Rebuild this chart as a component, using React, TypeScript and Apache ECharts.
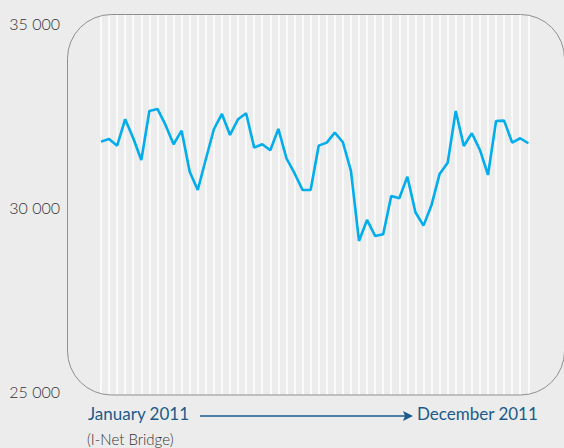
import React, { useEffect, useRef } from "react";
import * as echarts from "echarts";

// Weekly closing levels, January to December 2011
const weeks: string[] = Array.from({ length: 54 }, (_, i) => `W${i + 1}`);
const indexLevels: number[] = [
  31795, 31868, 31686, 32403, 31887, 31298, 32628, 32683, 32248, 31724,
  32093, 30980, 30483, 31317, 32131, 32547, 31977, 32403, 32566, 31632,
  31724, 31561, 32140, 31344, 30937, 30483, 30483, 31686, 31768, 32039,
  31778, 30999, 29099, 29669, 29234, 29280, 30320, 30258, 30844, 29878,
  29514, 30076, 30918, 31225, 32628, 31678, 32023, 31569, 30891, 32357,
  32365, 31768, 31887, 31751,
];
const yMin = 25000;
const yMax = 35000;
const yStep = 5000;
const startLabel = "January 2011";
const endLabel = "December 2011";
const sourceLabel = "(I-Net Bridge)";

const FONT = "Lato, 'Open Sans', sans-serif";
const BLUE = "#1b5a8c";

const fmt = (v: number) => {
  const s = String(Math.round(v));
  return s.replace(/\B(?=(\d{3})+(?!\d))/g, " ");
};

// Rounded frame around the plot
const frame = { x: 67.5, y: 14.5, width: 497, height: 380.5, r: 44 };

export default function App() {
  const ref = useRef<HTMLDivElement>(null);

  useEffect(() => {
    if (!ref.current) return;
    const chart = echarts.init(ref.current, undefined, { renderer: "svg" });
    chart.setOption({
      animation: false,
      backgroundColor: "#ececec",
      grid: [
        { left: 101, right: 35.7, top: 23.6, bottom: 56.1 },
        { left: 101, right: 35.7, top: 15, bottom: 53.5 },
      ],
      xAxis: [
        {
          type: "category",
          gridIndex: 0,
          data: weeks,
          boundaryGap: false,
          axisLine: { show: false },
          axisTick: { show: false },
          axisLabel: { show: false },
          splitLine: { show: false },
        },
        {
          type: "category",
          gridIndex: 1,
          data: weeks,
          boundaryGap: false,
          axisLine: { show: false },
          axisTick: { show: false },
          axisLabel: { show: false, interval: 0 },
          splitLine: {
            show: true,
            interval: 0,
            lineStyle: { color: "#ffffff", width: 1.5 },
          },
          z: 0,
        },
      ],
      yAxis: [
        {
          type: "value",
          gridIndex: 0,
          min: yMin,
          max: yMax,
          interval: yStep,
          axisLine: { show: false },
          axisTick: { show: false },
          splitLine: { show: false },
          axisLabel: {
            margin: 41,
            color: "#333333",
            fontFamily: FONT,
            fontWeight: 300,
            fontSize: 16,
            formatter: (v: number) => fmt(v),
          },
        },
        {
          type: "value",
          gridIndex: 1,
          show: false,
          min: 0,
          max: 1,
        },
      ],
      graphic: [
        {
          type: "rect",
          z: -10,
          silent: true,
          shape: frame,
          style: { fill: "#ececec", stroke: null },
        },
        {
          type: "rect",
          z: 20,
          silent: true,
          shape: frame,
          style: { fill: null, stroke: "#8f8f8f", lineWidth: 1 },
        },
        {
          type: "text",
          left: 88,
          top: 405,
          style: { text: startLabel, fill: BLUE, font: `17px ${FONT}` },
        },
        {
          type: "text",
          left: 417,
          top: 405,
          style: { text: endLabel, fill: BLUE, font: `17px ${FONT}` },
        },
        {
          type: "text",
          left: 87,
          top: 431,
          style: { text: sourceLabel, fill: "#333333", font: `300 15px ${FONT}` },
        },
        {
          type: "line",
          shape: { x1: 200, y1: 416, x2: 405, y2: 416 },
          style: { stroke: BLUE, lineWidth: 1.3 },
        },
        {
          type: "polygon",
          shape: { points: [[403, 411], [413, 416], [403, 421], [405, 416]] },
          style: { fill: BLUE },
        },
      ],
      series: [
        {
          type: "line",
          xAxisIndex: 0,
          yAxisIndex: 0,
          data: indexLevels,
          showSymbol: false,
          lineStyle: { color: "#00adef", width: 2.6 },
          z: 5,
        },
      ],
    });
    return () => chart.dispose();
  }, []);

  return (
    <div
      ref={ref}
      style={{ position: "fixed", left: 0, top: 0, width: 564, height: 448 }}
    />
  );
}
